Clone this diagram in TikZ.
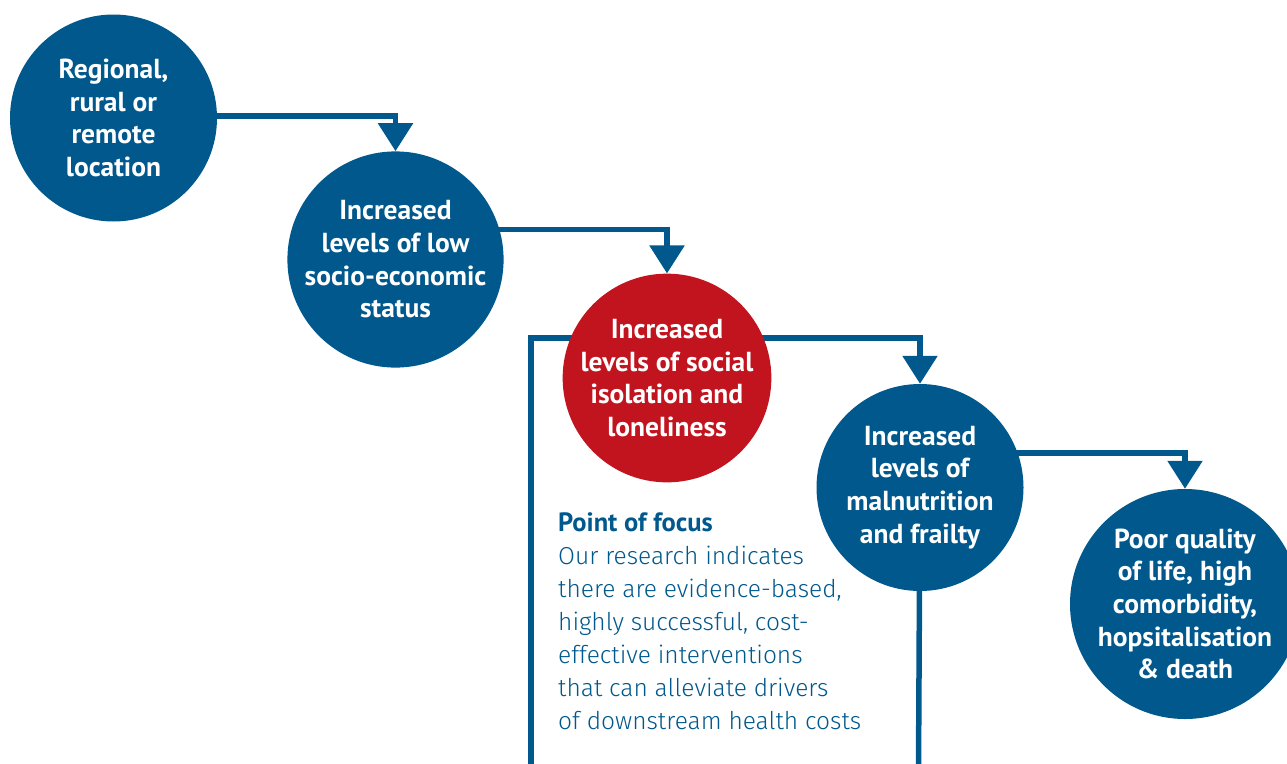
\documentclass[tikz,border=0pt]{standalone}
\usepackage{fontspec}
\setmainfont{PT Sans}
\newfontfamily\lightfont{Fira Sans Light}
\usetikzlibrary{arrows.meta,backgrounds,calc}
\definecolor{flowblue}{RGB}{0,88,140}
\definecolor{focusred}{RGB}{193,20,30}
\tikzset{
  stage/.style={circle, fill=flowblue, text=white, minimum size=207pt,
    inner sep=0pt, align=center, font=\bfseries\fontsize{27.5}{32.7}\selectfont},
  focusstage/.style={stage, fill=focusred},
  link/.style={draw=flowblue, line width=5.5pt,
    -{Triangle[width=34pt,length=28pt]}},
  rail/.style={draw=flowblue, line width=5.5pt},
}
\begin{document}
\begin{tikzpicture}[x=1pt,y=-1pt]
\useasboundingbox (0,0) rectangle (1287,763);

% stages of the pathway
\node[stage] (c1) at (113.5,118) {Regional,\\rural or\\remote\\location};
\node[stage] (c2) at (395.5,259.5) {Increased\\levels of low\\socio-economic\\status};
\node[focusstage] (c3) at (667,378) {Increased\\levels of social\\isolation and\\loneliness};
\node[stage] (c4) at (920,487.5) {Increased\\levels of\\malnutrition\\and frailty};
\node[stage] (c5) at (1185,604) {Poor quality\\of life, high\\comorbidity,\\hopsitalisation\\\& death};

% frame around the focus note
\coordinate (boxtl) at (531,338);
\coordinate (boxbl) at (531,770);
\coordinate (boxbr) at (918.5,770);

% focus note
\node[anchor=north west, align=left, inner sep=0pt, text=flowblue,
      font=\lightfont\fontsize{24.5}{33}\selectfont] (note) at (558,512.5)
  {{\rmfamily\bfseries\fontsize{26.5}{33}\selectfont Point of focus}\\
   Our research indicates\\
   there are evidence-based,\\
   highly successful, cost-\\
   effective interventions\\
   that can alleviate drivers\\
   of downstream health costs};

\begin{scope}[on background layer]
  \draw[link] ($(c1.center)+(0,-2)$) -| (c2.north);
  \draw[link] ($(c2.center)+(0,-30)$) -| (c3.north);
  \draw[link] (boxbl) -- (boxtl) -| (c4.north);
  \draw[link] ($(c4.center)+(0,-34.5)$) -| (c5.north);
  \draw[rail] (c4.center) -- (boxbr);
\end{scope}
\end{tikzpicture}
\end{document}
